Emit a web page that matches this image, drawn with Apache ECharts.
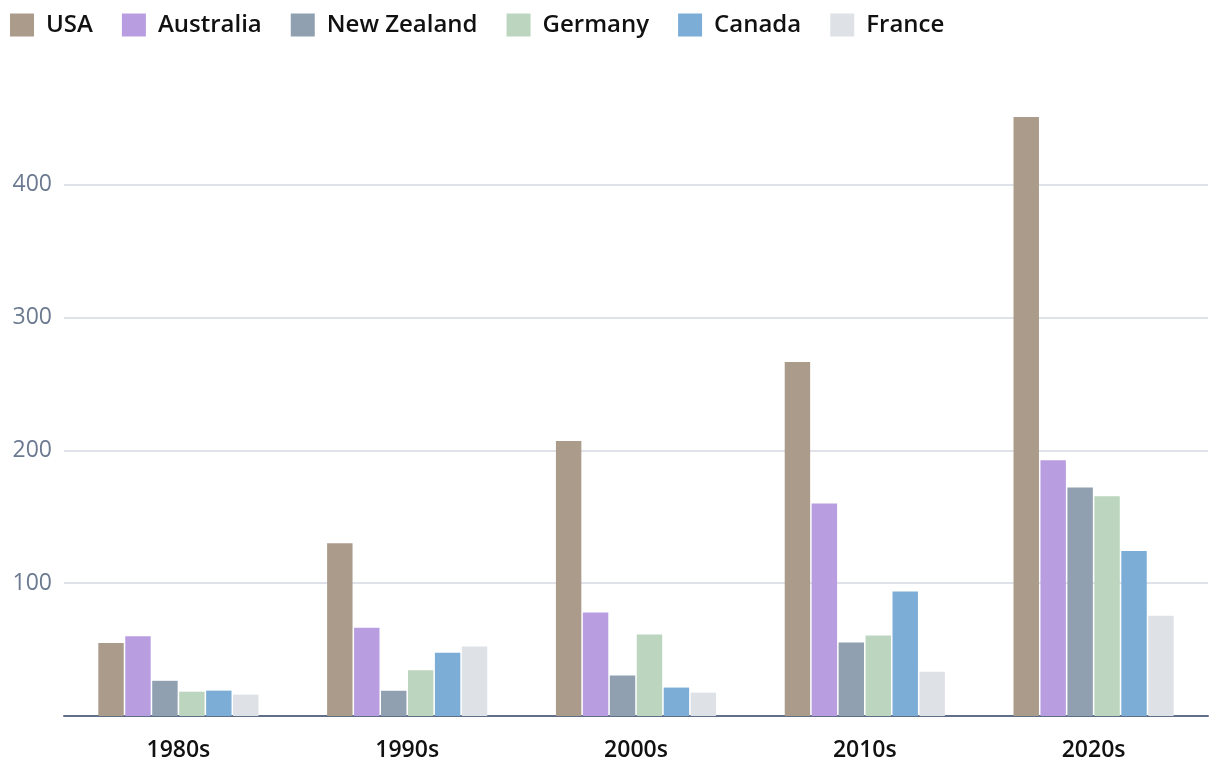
<!DOCTYPE html>
<html>
<head>
<meta charset="utf-8">
<script src="https://cdn.jsdelivr.net/npm/echarts@6/dist/echarts.min.js"></script>
<style>
html,body{margin:0;padding:0;background:#fff;}
#chart{width:1220px;height:778px;}
</style>
</head>
<body>
<div id="chart"></div>
<script>
const categories = ['1980s', '1990s', '2000s', '2010s', '2020s'];
const seriesNames = ['USA', 'Australia', 'New Zealand', 'Germany', 'Canada', 'France'];
const usa = [55, 130, 207, 266.5, 451];
const australia = [60, 66.5, 78, 160, 192.5];
const newZealand = [26.5, 19, 30.5, 55.3, 172];
const germany = [18.3, 34.4, 61.3, 60.6, 165.5];
const canada = [19.1, 47.7, 21.4, 93.7, 124.2];
const france = [16.1, 52.3, 17.6, 33.4, 75.4];
const yTicks = [0, 100, 200, 300, 400];

const colors = ['#ab9b8a', '#b89ee0', '#90a0b0', '#bcd5bf', '#7badd6', '#dee1e6'];
const values = [usa, australia, newZealand, germany, canada, france];

const chart = echarts.init(document.getElementById('chart'), null, {renderer: 'canvas'});
chart.setOption({
  animation: false,
  color: colors,
  legend: {
    left: 10,
    top: 13,
    padding: 0,
    itemWidth: 24,
    itemHeight: 23,
    itemGap: 29,
    icon: 'rect',
    textStyle: {
      fontFamily: 'Open Sans',
      fontSize: 24,
      fontWeight: 600,
      color: '#111',
      padding: [0, 0, 0, 7]
    },
    data: seriesNames
  },
  grid: {left: 64, right: 12, top: 105, bottom: 62},
  xAxis: {
    type: 'category',
    data: categories,
    axisLine: {lineStyle: {color: '#5f6f87', width: 2}},
    axisTick: {alignWithLabel: true, length: 8, lineStyle: {color: '#222', width: 2}},
    axisLabel: {
      fontFamily: 'Open Sans',
      fontSize: 23,
      fontWeight: 600,
      color: '#111',
      margin: 23
    }
  },
  yAxis: {
    type: 'value',
    min: yTicks[0],
    max: 460,
    interval: 100,
    axisLine: {show: false},
    axisTick: {show: false},
    axisLabel: {
      fontFamily: 'Open Sans',
      fontSize: 23,
      color: '#6b7a90',
      margin: 12,
      showMinLabel: false,
      showMaxLabel: false,
      formatter: v => yTicks.indexOf(v) >= 0 ? String(v) : ''
    },
    splitLine: {showMinLine: false, showMaxLine: false, lineStyle: {color: '#d5d9e2', width: 1.5}}
  },
  series: seriesNames.map((n, i) => ({
    name: n,
    type: 'bar',
    data: values[i],
    barGap: '6%',
    barCategoryGap: '30%'
  }))
});
</script>
</body>
</html>
